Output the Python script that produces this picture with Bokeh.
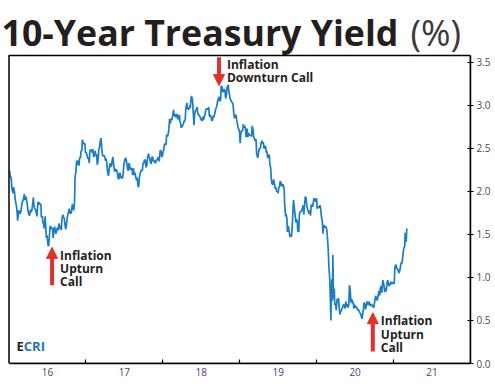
import pandas as pd
from bokeh.plotting import figure
from bokeh.models import Range1d, FixedTicker, Label, Arrow, NormalHead, ColumnDataSource, BoxAnnotation
from bokeh.embed import file_html
from bokeh.resources import INLINE

# ---- data: 10-year Treasury yield (%) ----
dates_2016 = ["01-04","01-07","01-11","01-15","01-20","01-22","01-27","01-29","02-02","02-05","02-09","02-11","02-16","02-19","02-23","02-26",
              "03-01","03-04","03-09","03-14","03-17","03-22","03-28","03-31","04-05","04-08","04-12","04-15","04-19","04-26","04-29",
              "05-03","05-06","05-11","05-13","05-18","05-20","05-24","05-27","06-01","06-03","06-08","06-10","06-14","06-16","06-21","06-24","06-27","06-30",
              "07-05","07-08","07-12","07-15","07-19","07-22","07-26","07-29","08-02","08-05","08-09","08-12","08-16","08-19","08-23","08-26","08-30",
              "09-02","09-06","09-09","09-13","09-16","09-20","09-23","09-27","09-30","10-04","10-07","10-11","10-14","10-18","10-21","10-25","10-28",
              "11-01","11-04","11-08","11-10","11-14","11-18","11-22","11-25","11-29","12-02","12-06","12-09","12-13","12-15","12-20","12-23","12-27","12-30"]
yield_2016 = [2.24,2.16,2.17,2.03,1.98,2.05,2.00,1.94,1.87,1.84,1.75,1.66,1.78,1.76,1.74,1.76,
              1.83,1.88,1.90,1.97,1.90,1.94,1.85,1.78,1.73,1.72,1.79,1.76,1.78,1.93,1.83,
              1.80,1.79,1.74,1.71,1.88,1.85,1.87,1.85,1.85,1.70,1.71,1.64,1.62,1.57,1.71,1.57,1.46,1.49,
              1.37,1.37,1.51,1.60,1.58,1.57,1.57,1.46,1.55,1.59,1.53,1.51,1.56,1.58,1.55,1.63,1.57,
              1.60,1.55,1.68,1.73,1.70,1.69,1.62,1.56,1.60,1.69,1.73,1.77,1.80,1.75,1.74,1.77,1.85,
              1.83,1.78,1.88,2.15,2.23,2.36,2.31,2.36,2.30,2.39,2.39,2.47,2.48,2.60,2.56,2.55,2.56,2.45]

dates_2017 = ["01-03","01-06","01-10","01-13","01-17","01-20","01-24","01-27","01-31","02-03","02-07","02-10","02-14","02-17","02-21","02-24","02-28",
              "03-03","03-07","03-10","03-14","03-17","03-21","03-24","03-28","03-31","04-04","04-07","04-11","04-13","04-18","04-21","04-25","04-28",
              "05-02","05-05","05-09","05-12","05-17","05-19","05-23","05-26","05-31","06-02","06-06","06-09","06-13","06-16","06-20","06-23","06-27","06-30",
              "07-03","07-07","07-11","07-14","07-18","07-21","07-25","07-28","08-01","08-04","08-08","08-11","08-15","08-18","08-22","08-25","08-29",
              "09-01","09-05","09-08","09-12","09-15","09-19","09-22","09-26","09-29","10-03","10-06","10-10","10-13","10-17","10-20","10-25","10-27","10-31",
              "11-03","11-07","11-10","11-14","11-17","11-21","11-24","11-28","12-01","12-05","12-08","12-12","12-15","12-19","12-22","12-27","12-29"]
yield_2017 = [2.45,2.42,2.38,2.40,2.33,2.48,2.47,2.49,2.45,2.49,2.40,2.41,2.47,2.42,2.43,2.31,2.36,
              2.49,2.52,2.58,2.62,2.50,2.42,2.41,2.42,2.40,2.36,2.38,2.31,2.24,2.18,2.25,2.33,2.29,
              2.29,2.35,2.40,2.33,2.23,2.24,2.26,2.25,2.21,2.16,2.14,2.21,2.21,2.16,2.16,2.15,2.21,2.31,
              2.35,2.39,2.37,2.33,2.26,2.24,2.33,2.29,2.25,2.27,2.26,2.19,2.27,2.19,2.22,2.17,2.13,
              2.16,2.07,2.05,2.17,2.20,2.24,2.25,2.24,2.33,2.33,2.37,2.36,2.28,2.30,2.38,2.44,2.41,2.38,
              2.34,2.32,2.40,2.40,2.35,2.36,2.34,2.33,2.37,2.36,2.39,2.40,2.35,2.47,2.48,2.41,2.40]

dates_2018 = ["01-02","01-05","01-09","01-12","01-16","01-19","01-23","01-26","01-30","02-02","02-06","02-09","02-13","02-16","02-21","02-23","02-27",
              "03-02","03-06","03-09","03-13","03-16","03-21","03-23","03-27","03-29","04-03","04-06","04-10","04-13","04-17","04-20","04-25","04-27",
              "05-01","05-04","05-09","05-11","05-15","05-17","05-22","05-25","05-29","06-01","06-05","06-08","06-13","06-15","06-19","06-22","06-26","06-29",
              "07-03","07-06","07-10","07-13","07-17","07-20","07-24","07-27","07-31","08-03","08-07","08-10","08-14","08-17","08-21","08-24","08-28","08-31",
              "09-04","09-07","09-11","09-14","09-18","09-21","09-25","09-28","10-02","10-05","10-09","10-12","10-16","10-19","10-23","10-26","10-30",
              "11-02","11-08","11-09","11-13","11-16","11-20","11-23","11-28","11-30","12-04","12-07","12-11","12-14","12-18","12-21","12-24","12-28","12-31"]
yield_2018 = [2.46,2.48,2.55,2.55,2.54,2.66,2.64,2.66,2.73,2.84,2.79,2.85,2.83,2.87,2.95,2.88,2.90,
              2.86,2.88,2.90,2.84,2.85,2.89,2.82,2.78,2.74,2.76,2.77,2.80,2.82,2.83,2.96,3.03,2.96,
              2.97,2.95,3.00,2.97,3.08,3.11,3.06,2.93,2.77,2.90,2.94,2.95,2.98,2.92,2.89,2.89,2.87,2.85,
              2.83,2.82,2.87,2.83,2.87,2.89,2.95,2.96,2.96,2.95,2.98,2.87,2.89,2.87,2.83,2.82,2.88,2.86,
              2.90,2.94,2.97,2.99,3.05,3.07,3.10,3.05,3.06,3.23,3.21,3.16,3.16,3.19,3.17,3.08,3.12,
              3.21,3.24,3.19,3.13,3.08,3.06,3.04,3.03,3.01,2.91,2.85,2.88,2.89,2.82,2.79,2.74,2.72,2.69]

dates_2019 = ["01-03","01-07","01-11","01-15","01-18","01-22","01-25","01-29","01-31","02-05","02-08","02-12","02-15","02-19","02-22","02-26",
              "03-01","03-05","03-08","03-12","03-15","03-19","03-22","03-27","03-29","04-02","04-05","04-09","04-12","04-17","04-18","04-23","04-26","04-30",
              "05-03","05-07","05-10","05-13","05-17","05-21","05-24","05-28","05-31","06-03","06-07","06-11","06-14","06-19","06-21","06-25","06-28",
              "07-02","07-05","07-09","07-12","07-16","07-19","07-23","07-26","07-31","08-02","08-07","08-09","08-13","08-15","08-19","08-23","08-28","08-30",
              "09-03","09-06","09-10","09-13","09-17","09-20","09-24","09-27","10-01","10-03","10-08","10-11","10-15","10-18","10-22","10-25","10-29",
              "11-01","11-05","11-08","11-12","11-15","11-19","11-22","11-26","11-29","12-03","12-06","12-10","12-13","12-17","12-20","12-24","12-27","12-31"]
yield_2019 = [2.56,2.70,2.70,2.71,2.78,2.74,2.76,2.72,2.63,2.73,2.63,2.68,2.66,2.65,2.65,2.64,
              2.76,2.72,2.63,2.61,2.59,2.61,2.44,2.39,2.41,2.48,2.50,2.50,2.56,2.59,2.56,2.57,2.50,2.51,
              2.53,2.45,2.47,2.40,2.39,2.43,2.32,2.27,2.14,2.09,2.08,2.14,2.09,2.03,2.05,2.00,2.00,
              1.98,2.04,2.06,2.12,2.10,2.06,2.08,2.08,2.02,1.85,1.71,1.74,1.68,1.53,1.60,1.54,1.47,1.50,
              1.47,1.55,1.74,1.90,1.81,1.74,1.64,1.68,1.65,1.54,1.53,1.73,1.77,1.76,1.78,1.80,1.84,
              1.73,1.86,1.94,1.92,1.84,1.79,1.77,1.74,1.78,1.72,1.84,1.84,1.82,1.89,1.92,1.90,1.88,1.92]

dates_2020 = ["01-02","01-03","01-07","01-10","01-14","01-17","01-21","01-24","01-28","01-31","02-04","02-07","02-11","02-14","02-18","02-21","02-25","02-28",
              "03-03","03-06","03-09","03-10","03-12","03-13","03-16","03-18","03-19","03-20","03-23","03-25","03-27","03-31",
              "04-03","04-07","04-09","04-14","04-17","04-21","04-24","04-28","04-30","05-05","05-08","05-12","05-15","05-19","05-22","05-27","05-29",
              "06-02","06-05","06-09","06-12","06-16","06-19","06-23","06-26","06-30","07-02","07-07","07-10","07-14","07-17","07-21","07-24","07-28","07-31",
              "08-04","08-07","08-11","08-14","08-18","08-21","08-25","08-28","09-01","09-04","09-09","09-11","09-15","09-18","09-22","09-25","09-29",
              "10-02","10-07","10-09","10-13","10-16","10-20","10-23","10-27","10-30","11-03","11-06","11-09","11-11","11-16","11-20","11-24","11-27",
              "12-01","12-04","12-08","12-11","12-15","12-18","12-22","12-24","12-29","12-31"]
yield_2020 = [1.88,1.80,1.82,1.82,1.81,1.84,1.78,1.70,1.65,1.51,1.61,1.58,1.59,1.59,1.56,1.47,1.33,1.13,
              1.00,0.76,0.50,0.76,0.88,0.98,0.73,1.26,1.12,0.92,0.76,0.87,0.68,0.70,
              0.62,0.75,0.73,0.76,0.65,0.57,0.60,0.62,0.64,0.66,0.69,0.67,0.64,0.72,0.66,0.69,0.65,
              0.68,0.91,0.84,0.71,0.75,0.70,0.72,0.64,0.66,0.68,0.65,0.65,0.62,0.63,0.61,0.59,0.58,0.55,
              0.52,0.57,0.64,0.71,0.68,0.63,0.69,0.72,0.68,0.72,0.70,0.67,0.68,0.69,0.67,0.66,0.65,
              0.70,0.78,0.78,0.74,0.74,0.80,0.84,0.79,0.88,0.90,0.82,0.93,0.97,0.91,0.83,0.88,0.84,
              0.94,0.97,0.92,0.90,0.92,0.95,0.92,0.94,0.94,0.93]

dates_2021 = ["01-04","01-06","01-08","01-12","01-15","01-19","01-22","01-26","01-29","02-02","02-05","02-09","02-12","02-16","02-19","02-23","02-25","02-26",
              "03-02","03-04","03-05"]
yield_2021 = [0.93,1.04,1.13,1.15,1.11,1.10,1.09,1.05,1.07,1.11,1.17,1.16,1.20,1.30,1.34,1.37,1.52,1.42,
              1.42,1.54,1.57]

# axis ticks
year_starts = [2016, 2017, 2018, 2019, 2020, 2021, 2022]
year_labels = ["16", "17", "18", "19", "20", "21"]
y_ticks = [0.0, 0.5, 1.0, 1.5, 2.0, 2.5, 3.0, 3.5]
y_top = 3.58

# ECRI calls (date as decimal year, arrow tail and tip in %)
call_texts = ["Inflation\nUpturn\nCall", "Inflation\nDownturn Call", "Inflation\nUpturn\nCall"]
call_x = [2016.56, 2018.73, 2020.73]
call_tail = [0.91, 3.56, 0.14]
call_tip = [1.35, 3.23, 0.59]
call_text_y = [1.355, 3.575, 0.595]

# ---- build series ----
series = [(2016, dates_2016, yield_2016), (2017, dates_2017, yield_2017), (2018, dates_2018, yield_2018),
          (2019, dates_2019, yield_2019), (2020, dates_2020, yield_2020), (2021, dates_2021, yield_2021)]
xs, ys = [], []
for yr, ds, vs in series:
    for d, v in zip(ds, vs):
        t = pd.Timestamp(f"{yr}-{d}")
        ndays = 366 if t.is_leap_year else 365
        xs.append(yr + (t.dayofyear - 1) / ndays)
        ys.append(v)
src = ColumnDataSource(dict(x=xs, y=ys))

BLUE = "#1b7dc4"
RED = "#e2302a"
DARK = "#231f20"
FONT = "Open Sans"

# layout in pixels: plot box spans 461.5 px for 6 years and 308 px for 3.58 %
FW, FH = 470, 363
PX_YEAR = 461.5 / 6
PX_PCT = 308 / y_top
x_start = year_starts[0] - (FW - 461.5) / PX_YEAR
y_end = FH / PX_PCT

p = figure(frame_width=FW, frame_height=FH, x_range=Range1d(x_start, year_starts[-1]), y_range=Range1d(0, y_end),
           y_axis_location="right", output_backend="svg", toolbar_location=None,
           min_border_left=0, min_border_top=0, min_border_right=0, min_border_bottom=0)
p.xgrid.visible = False
p.ygrid.visible = False
p.outline_line_color = None

# plot box
p.add_layout(BoxAnnotation(left=year_starts[0], right=year_starts[-1], bottom=0, top=y_top,
                           fill_alpha=0, line_color="black", line_width=1.5, line_alpha=1))

p.line("x", "y", source=src, line_color=BLUE, line_width=1.7)

# x axis
xa = p.xaxis[0]
xa.bounds = (year_starts[0], year_starts[-1])
xa.ticker = FixedTicker(ticks=[y + 0.5 for y in year_starts[:-1]], minor_ticks=year_starts[1:-1])
xa.major_label_overrides = {y + 0.5: lab for y, lab in zip(year_starts[:-1], year_labels)}
xa.major_tick_line_color = None
xa.major_tick_out = 0
xa.major_tick_in = 0
xa.minor_tick_line_color = "black"
xa.minor_tick_line_width = 1.2
xa.minor_tick_in = 4
xa.minor_tick_out = 0
xa.axis_line_color = "black"
xa.axis_line_width = 1.5
xa.major_label_text_font = FONT
xa.major_label_text_font_size = "10px"
xa.major_label_text_color = "#5a3a6e"
xa.major_label_standoff = 4

# y axis
ya = p.yaxis[0]
ya.bounds = (0, y_top)
ya.ticker = FixedTicker(ticks=y_ticks)
ya.major_label_overrides = {t: f"{t:.1f}" for t in y_ticks}
ya.minor_tick_line_color = None
ya.major_tick_line_color = "black"
ya.major_tick_line_width = 1.2
ya.major_tick_in = 3
ya.major_tick_out = 3
ya.axis_line_color = "black"
ya.axis_line_width = 1.5
ya.major_label_text_font = FONT
ya.major_label_text_font_size = "10px"
ya.major_label_text_color = "#4a4a4a"
ya.major_label_standoff = 3

# arrows and call labels
for txt, cx, tail, tip, ty in zip(call_texts, call_x, call_tail, call_tip, call_text_y):
    p.add_layout(Arrow(end=NormalHead(size=11, fill_color=RED, line_color=RED, line_width=1),
                       x_start=cx, y_start=tail, x_end=cx, y_end=tip,
                       line_color=RED, line_width=4))
    p.add_layout(Label(x=cx, y=ty, x_offset=8, text=txt, text_baseline="top",
                       text_font=FONT, text_font_style="bold", text_font_size="12px",
                       text_color=DARK, text_line_height=0.78))

# ECRI logo
p.add_layout(Label(x=16, y=9, x_units="screen", y_units="screen", text="E",
                   text_font=FONT, text_font_style="bold", text_font_size="13px", text_color=DARK))
p.add_layout(Label(x=23.3, y=9, x_units="screen", y_units="screen", text="CRI",
                   text_font=FONT, text_font_style="bold", text_font_size="13px", text_color="#1b75bb"))

# title
p.add_layout(Label(x=1, y=FH - 7, x_units="screen", y_units="screen", text="10-Year Treasury Yield",
                   text_baseline="top",
                   text_font=FONT, text_font_style="bold", text_font_size="35.7px", text_color=DARK))
p.add_layout(Label(x=410, y=FH - 7, x_units="screen", y_units="screen", text="(%)",
                   text_baseline="top",
                   text_font=FONT, text_font_style="normal", text_font_size="35.7px", text_color="#3a3a3a"))

open("out.html", "w").write(file_html(p, INLINE))
